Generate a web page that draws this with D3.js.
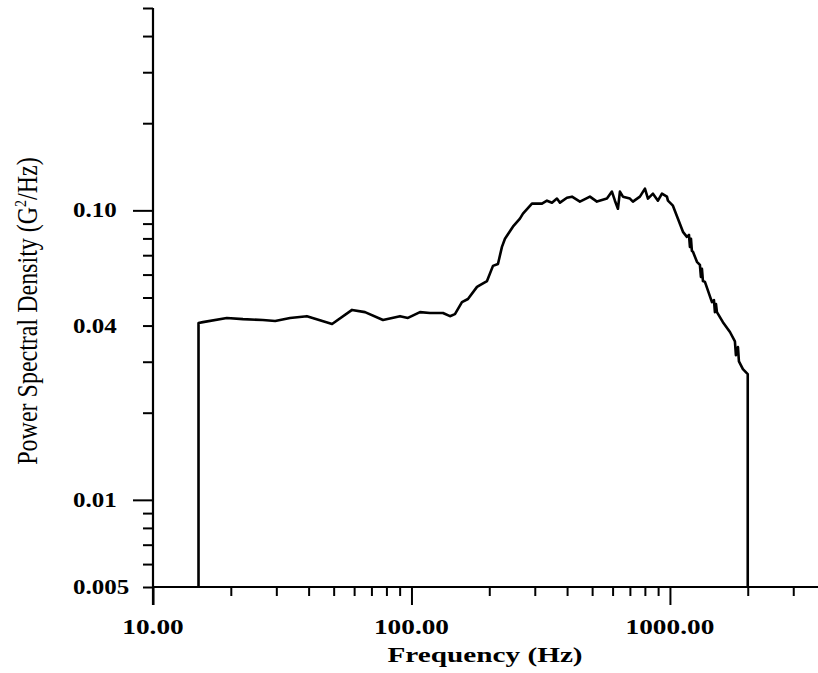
<!DOCTYPE html>
<html><head><meta charset="utf-8">
<script src="https://cdn.jsdelivr.net/npm/d3@7"></script>
<style>body{margin:0;background:#fff}</style></head>
<body>
<svg id="c" width="818" height="673"></svg>
<script>
const freqHz = [15, 15, 15.6, 19.3, 22.3, 26.6, 29.7, 33.9, 39.4, 49.3, 58.9, 66.1, 77.6, 90.3, 96.9, 107.9, 117.9, 132.4, 140.9, 147.3, 156.8, 165.4, 179.3, 184.1, 196.0, 206.7, 216.1, 223.9, 230.0, 246.9, 262.8, 270.0, 292.5, 319.8, 334.4, 349.6, 365.5, 375.4, 399.5, 417.8, 448.5, 481.7, 490.3, 521.9, 570.5, 596.4, 612.6, 629.2, 640.5, 657.9, 700.1, 719.1, 765.4, 800.4, 822.1, 859.6, 898.7, 931.3, 973.6, 982.4, 1027, 1074, 1123, 1163, 1185, 1195, 1206, 1216, 1228, 1272, 1306, 1318, 1330, 1342, 1366, 1454, 1480, 1493, 1507, 1520, 1603, 1707, 1784, 1800, 1833, 1849, 1916, 2000, 2000];
const psd = [0.005, 0.0408, 0.0411, 0.0425, 0.0421, 0.0418, 0.0415, 0.0425, 0.0431, 0.0405, 0.0453, 0.0445, 0.0418, 0.0431, 0.0425, 0.0445, 0.0442, 0.0442, 0.0431, 0.0438, 0.0482, 0.0494, 0.0544, 0.0552, 0.0570, 0.0643, 0.0653, 0.0748, 0.0798, 0.0878, 0.0936, 0.0974, 0.1055, 0.1055, 0.1080, 0.1063, 0.1098, 0.1063, 0.1106, 0.1115, 0.1072, 0.1106, 0.1115, 0.1072, 0.1098, 0.1161, 0.1080, 0.1013, 0.1161, 0.1115, 0.1098, 0.1072, 0.1115, 0.1189, 0.1098, 0.1142, 0.1080, 0.1142, 0.1115, 0.1080, 0.1038, 0.0936, 0.0843, 0.0810, 0.0823, 0.0748, 0.0798, 0.0725, 0.0719, 0.0664, 0.0648, 0.0589, 0.0628, 0.0570, 0.0566, 0.0482, 0.0490, 0.0445, 0.0475, 0.0445, 0.0411, 0.0380, 0.0353, 0.0316, 0.0337, 0.0301, 0.0283, 0.0272, 0.005];

const xMajorTicks = [10, 100, 1000];
const xMinorTicks = [20, 30, 40, 50, 60, 70, 80, 90, 200, 300, 400, 500, 600, 700, 800, 900, 2000, 3000];
const xLabelValues = [10, 100, 1000];
const xTickLabels = ["10.00", "100.00", "1000.00"];
const yMajorTicks = [0.01, 0.1];
const yMinorTicks = [0.005, 0.006, 0.007, 0.008, 0.009, 0.02, 0.03, 0.04, 0.05, 0.06, 0.07, 0.08, 0.09, 0.2, 0.3, 0.4, 0.5];
const yLabelValues = [0.005, 0.01, 0.04, 0.1];
const yTickLabels = ["0.005", "0.01", "0.04", "0.10"];
const xTitle = "Frequency (Hz)";

const svg = d3.select("#c");
const FONT = "'Liberation Serif', 'Times New Roman', serif";

const x = d3.scaleLog().domain([10, 3740]).range([153, 818]);
const y = d3.scaleLog().domain([0.005, 0.5]).range([587, 8]);

// x axis ticks
svg.append("g").attr("transform", "translate(0,587)")
  .call(d3.axisBottom(x).tickValues(xMinorTicks).tickSize(9).tickFormat(""));
svg.append("g").attr("transform", "translate(0,587)")
  .call(d3.axisBottom(x).tickValues(xMajorTicks).tickSize(18).tickFormat(""));
// y axis ticks
svg.append("g").attr("transform", "translate(153,0)")
  .call(d3.axisLeft(y).tickValues(yMinorTicks).tickSize(10).tickFormat(""));
svg.append("g").attr("transform", "translate(153,0)")
  .call(d3.axisLeft(y).tickValues(yMajorTicks).tickSize(20).tickFormat(""));
svg.selectAll(".domain").remove();
svg.selectAll(".tick line").attr("stroke", "#000").attr("stroke-width", 2);

// axis lines
svg.append("line").attr("x1", 153).attr("x2", 818).attr("y1", 587).attr("y2", 587)
  .attr("stroke", "#000").attr("stroke-width", 2.2);
svg.append("line").attr("x1", 153).attr("x2", 153).attr("y1", y(0.5)).attr("y2", 605)
  .attr("stroke", "#000").attr("stroke-width", 2.2);

// x tick labels
xLabelValues.forEach((v, i) => {
  svg.append("text").attr("transform", `translate(${x(v)},634) scale(1.3,1)`)
    .attr("text-anchor", "middle").attr("font-family", FONT).attr("font-weight", "bold")
    .attr("font-size", 21).text(xTickLabels[i]);
});
// y tick labels
yLabelValues.forEach((v, i) => {
  svg.append("text").attr("transform", `translate(73,${y(v) + 7}) scale(1.25,1)`)
    .attr("text-anchor", "start").attr("font-family", FONT).attr("font-weight", "bold")
    .attr("font-size", 20).text(yTickLabels[i]);
});

// x title
svg.append("text").attr("transform", "translate(485,662) scale(1.33,1)")
  .attr("text-anchor", "middle").attr("font-family", FONT).attr("font-weight", "bold")
  .attr("font-size", 22).text(xTitle);

// y title
const yt = svg.append("text").attr("transform", "translate(37,311) scale(1.25,1) rotate(-90)")
  .attr("text-anchor", "middle").attr("font-family", FONT).attr("font-size", 24);
yt.append("tspan").text("Power Spectral Density (G");
yt.append("tspan").attr("font-size", 14).attr("dy", -9).text("2");
yt.append("tspan").attr("dy", 9).text("/Hz)");

// curve
const data = freqHz.map((f, i) => [f, psd[i]]);
svg.append("path").datum(data)
  .attr("d", d3.line().x(d => x(d[0])).y(d => y(d[1])))
  .attr("fill", "none").attr("stroke", "#000").attr("stroke-width", 2.6)
  .attr("stroke-linejoin", "round");
</script>
</body></html>
